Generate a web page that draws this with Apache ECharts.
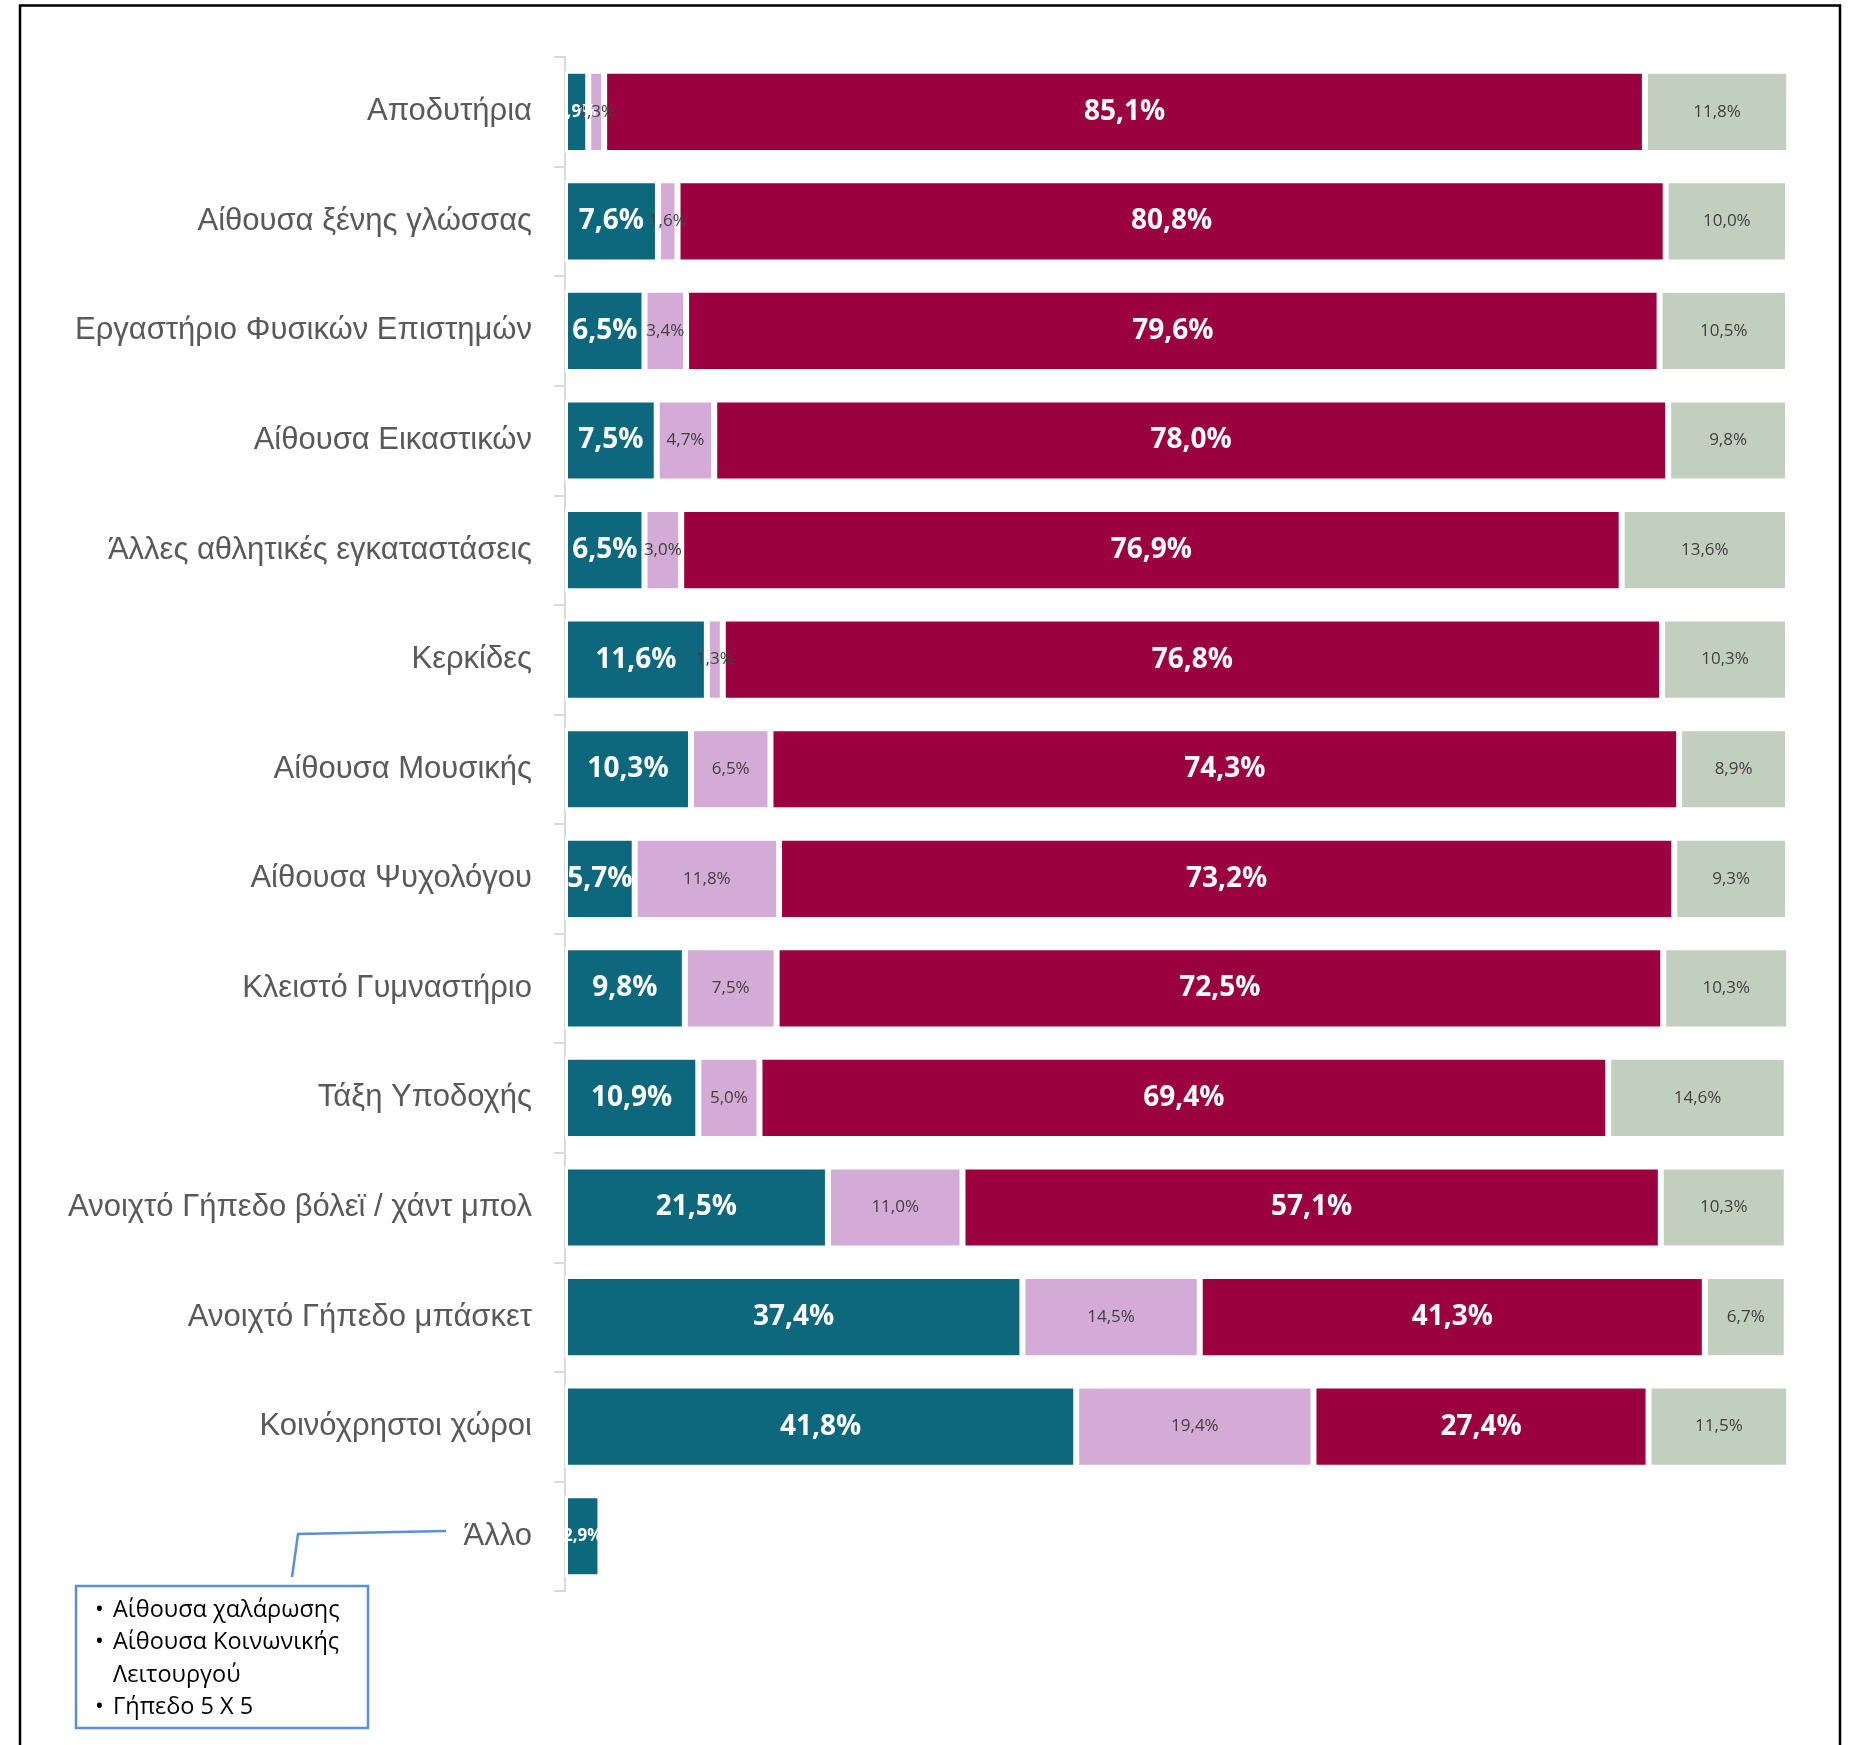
<!DOCTYPE html>
<html>
<head>
<meta charset="utf-8">
<script src="https://cdn.jsdelivr.net/npm/echarts@6/dist/echarts.min.js"></script>
<style>
html,body{margin:0;padding:0;background:#fff;}
#chart{width:1852px;height:1745px;}
</style>
</head>
<body>
<div id="chart"></div>
<script>
const categories = ['Αποδυτήρια','Αίθουσα ξένης γλώσσας','Εργαστήριο Φυσικών Επιστημών','Αίθουσα Εικαστικών','Άλλες αθλητικές εγκαταστάσεις','Κερκίδες','Αίθουσα Μουσικής','Αίθουσα Ψυχολόγου','Κλειστό Γυμναστήριο','Τάξη Υποδοχής','Ανοιχτό Γήπεδο βόλεϊ / χάντ μπολ','Ανοιχτό Γήπεδο μπάσκετ','Κοινόχρηστοι χώροι','Άλλο'];
const tealValues  = [1.9, 7.6, 6.5, 7.5, 6.5, 11.6, 10.3, 5.7, 9.8, 10.9, 21.5, 37.4, 41.8, 2.9];
const lilacValues = [1.3, 1.6, 3.4, 4.7, 3.0, 1.3, 6.5, 11.8, 7.5, 5.0, 11.0, 14.5, 19.4, null];
const redValues   = [85.1, 80.8, 79.6, 78.0, 76.9, 76.8, 74.3, 73.2, 72.5, 69.4, 57.1, 41.3, 27.4, null];
const greyValues  = [11.8, 10.0, 10.5, 9.8, 13.6, 10.3, 8.9, 9.3, 10.3, 14.6, 10.3, 6.7, 11.5, null];
const noteItems = [['•', 'Αίθουσα χαλάρωσης'], ['•', 'Αίθουσα Κοινωνικής'], ['', 'Λειτουργού'], ['•', 'Γήπεδο 5 Χ 5']];

const fmt = v => (v == null ? '' : v.toFixed(1).replace('.', ',') + '%');

function bigLabelData(vals) {
  return vals.map(v => v != null && v < 3
    ? { value: v, label: { fontSize: 17 } }
    : v);
}

function makeSeries(name, vals, color, big) {
  return {
    name: name,
    type: 'bar',
    stack: 'total',
    barCategoryGap: '25%',
    data: big ? bigLabelData(vals) : vals,
    itemStyle: { color: color, borderColor: '#ffffff', borderWidth: 3 },
    label: {
      show: true,
      position: 'inside',
      formatter: p => fmt(p.value),
      fontFamily: '"Open Sans", sans-serif',
      fontSize: big ? 28 : 17,
      fontWeight: big ? 'bold' : 'normal',
      color: big ? '#ffffff' : '#404040'
    },
    emphasis: { disabled: true }
  };
}

const noteText = noteItems.map(it => '{b|' + (it[0] || ' ') + '}{t|' + it[1] + '}').join('\n');

const chart = echarts.init(document.getElementById('chart'), null, { renderer: 'canvas' });
chart.setOption({
  backgroundColor: '#ffffff',
  animation: false,
  grid: { left: 565, right: 64, top: 57, bottom: 154, containLabel: false, outerBoundsMode: 'none' },
  xAxis: {
    type: 'value', min: 0, max: 100, show: false
  },
  yAxis: {
    type: 'category',
    inverse: true,
    data: categories,
    axisLine: { show: true, lineStyle: { color: '#d9d9d9', width: 2 } },
    axisTick: { show: true, length: 11, lineStyle: { color: '#d9d9d9', width: 2 } },
    axisLabel: {
      margin: 33,
      fontFamily: '"Liberation Sans", Arial, sans-serif',
      fontSize: 31,
      color: '#595959'
    }
  },
  series: [
    makeSeries('Σειρά 1', tealValues, '#0d687d', true),
    makeSeries('Σειρά 2', lilacValues, '#d4abd6', false),
    makeSeries('Σειρά 3', redValues, '#9b003f', true),
    makeSeries('Σειρά 4', greyValues, '#c2cebe', false)
  ],
  graphic: [
    {
      type: 'rect', z: 100,
      shape: { x: 20, y: 5.5, width: 1820, height: 1800 },
      style: { fill: 'none', stroke: '#000000', lineWidth: 2.5 }
    },
    {
      type: 'polyline', z: 100,
      shape: { points: [[292, 1577], [298, 1534], [446, 1531]] },
      style: { fill: 'none', stroke: '#5b8fd8', lineWidth: 2.5 }
    },
    {
      type: 'rect', z: 100,
      shape: { x: 76, y: 1586, width: 292, height: 142 },
      style: { fill: '#ffffff', stroke: '#5b8fd8', lineWidth: 2.5 }
    },
    {
      type: 'text', z: 101,
      left: 95, top: 1598,
      style: {
        text: noteText,
        fill: '#000000',
        rich: {
          b: { width: 18, fontFamily: '"Open Sans", sans-serif', fontSize: 23.5, lineHeight: 32.5, fill: '#000000' },
          t: { fontFamily: '"Open Sans", sans-serif', fontSize: 23.5, lineHeight: 32.5, fill: '#000000' }
        }
      }
    }
  ]
});
</script>
</body>
</html>
